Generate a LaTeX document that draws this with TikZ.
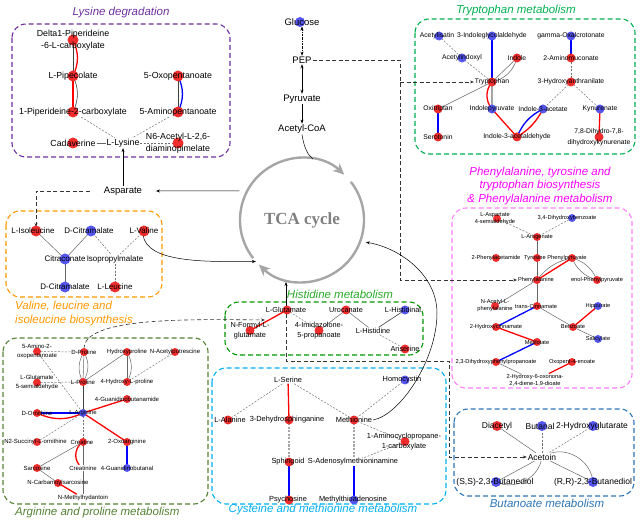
\documentclass[tikz,border=0pt]{standalone}
\usepackage{fontspec}
\setmainfont{Liberation Sans}
\newfontfamily\tcafont{Liberation Serif}
\usetikzlibrary{arrows.meta}
\pgfdeclarelayer{edges}
\pgfdeclarelayer{dots}
\pgfsetlayers{edges,dots,main}
\definecolor{rdc}{RGB}{240,45,45}
\definecolor{bdc}{RGB}{85,85,240}
\definecolor{lyscol}{RGB}{112,48,160}
\definecolor{trpcol}{RGB}{0,176,80}
\definecolor{phecol}{RGB}{255,0,255}
\definecolor{phebox}{RGB}{255,128,255}
\definecolor{valcol}{RGB}{255,153,0}
\definecolor{hiscol}{RGB}{40,170,40}
\definecolor{hisbox}{RGB}{0,150,0}
\definecolor{argcol}{RGB}{84,130,53}
\definecolor{cyscol}{RGB}{0,176,240}
\definecolor{butcol}{RGB}{46,117,182}
\definecolor{tcagray}{RGB}{166,166,166}
\definecolor{tcatext}{RGB}{128,128,128}
\newcommand\rdt[3][0]{\fill[rdot] ([xshift=#1pt]#2.center) circle[radius=#3];}
\newcommand\bdt[3][0]{\fill[bdot] ([xshift=#1pt]#2.center) circle[radius=#3];}
\tikzset{
  m/.style={inner sep=1pt,outer sep=0pt,align=center},
  fCen/.style={font=\fontsize{9.5}{11}\selectfont},
  fLys/.style={font=\fontsize{8.8}{12.5}\selectfont},
  fVal/.style={font=\fontsize{8}{10}\selectfont},
  fTrp/.style={font=\fontsize{6.8}{10.5}\selectfont},
  fPhe/.style={font=\fontsize{5.7}{7}\selectfont},
  fHis/.style={font=\fontsize{7.3}{10.7}\selectfont},
  fArg/.style={font=\fontsize{6}{9}\selectfont},
  fCys/.style={font=\fontsize{7.4}{9.3}\selectfont},
  fBut/.style={font=\fontsize{8.5}{10}\selectfont},
  ttl/.style={inner sep=0pt,font=\fontsize{11.5}{13.5}\selectfont\itshape,align=center},
  pbox/.style={rounded corners=14pt,dash pattern=on 5pt off 3pt,line width=1.1pt},
  gl/.style={draw=black!60,line width=0.5pt},
  dkl/.style={draw=black!75,line width=0.6pt},
  dl/.style={draw=black!55,line width=0.5pt,dash pattern=on 2pt off 1.5pt},
  gth/.style={draw=black!35,line width=1.4pt},
  dth/.style={draw=black!35,line width=1.3pt,dash pattern=on 2pt off 1.5pt},
  rl/.style={draw=red,line width=1.3pt},
  bl/.style={draw=blue,line width=1.3pt},
  rdot/.style={fill=rdc},
  bdot/.style={fill=bdc},
  arr/.style={draw=black,line width=0.5pt,-{Stealth[length=4pt,width=3pt]}},
  dbl/.style={draw=black,line width=0.5pt,{Stealth[length=4pt,width=3pt]}-{Stealth[length=4pt,width=3pt]}},
  darr/.style={draw=black!80,line width=0.6pt,dash pattern=on 4pt off 2.5pt,-{Stealth[length=4pt,width=3pt]}},
  tcaline/.style={draw=tcagray,line width=2.4pt,-{Stealth[length=11pt,width=10pt,inset=3pt]}},
}
\begin{document}
\begin{tikzpicture}[x=1pt,y=-1pt]
\useasboundingbox (0,0) rectangle (640,526);
% ---------- centre ----------
\node[m,fCen] (glc) at (302,22) {Glucose};
\node[m,fCen] (pep) at (302,60) {PEP};
\node[m,fCen] (pyr) at (302,99) {Pyruvate};
\node[m,fCen] (acoa) at (302,129) {Acetyl-CoA};
\node[m,fCen] (asp) at (123,191) {Asparate};
\node[circle,minimum size=124pt,inner sep=0pt,outer sep=0pt,text=tcatext,font=\tcafont\fontsize{17}{17}\selectfont\bfseries] (tca) at (302,220) {TCA cycle};
% ---------- lysine ----------
\node[ttl,text=lyscol] (tLys) at (121,13) {Lysine degradation};
\node[m,fLys] (del) at (73,40) {Delta1-Piperideine\\-6-L-carboxylate};
\node[m,fLys] (pip) at (73,76) {L-Pipecolate};
\node[m,fLys] (pip1) at (73,112) {1-Piperideine-2-carboxylate};
\node[m,fLys] (oxo) at (178,76) {5-Oxopentanoate};
\node[m,fLys] (amino) at (178,112) {5-Aminopentanoate};
\node[m,fLys] (cad) at (73,143) {Cadaverine};
\node[m,fLys] (lys) at (123,143) {L-Lysine};
\node[m,fLys] (n6) at (178,143) {N6-Acetyl-L-2,6-\\diaminopimelate};
% ---------- valine ----------
\node[ttl,text=valcol,align=left,anchor=west] (tVal) at (15,313.5) {Valine, leucine and\\isoleucine biosynthesis};
\node[m,fVal] (ile) at (33,231) {L-Isoleucine};
\node[m,fVal] (dcit1) at (89,231) {D-Citramalate};
\node[m,fVal] (lval) at (144,231) {L-Valine};
\node[m,fVal] (citr) at (65,259) {Citraconate};
\node[m,fVal] (ipm) at (115,259) {Isopropylmalate};
\node[m,fVal] (dcit2) at (65,287) {D-Citramalate};
\node[m,fVal] (leu) at (115,287) {L-Leucine};
% ---------- tryptophan ----------
\node[ttl,text=trpcol] (tTrp) at (516,11) {Tryptophan metabolism};
\node[m,fTrp] (ais) at (437,36) {Acetylisatin};
\node[m,fTrp] (igc) at (492,36) {3-Indoleglycolaldehyde};
\node[m,fTrp] (goc) at (571,36) {gamma-Oxalcrotonate};
\node[m,fTrp] (aix) at (462,58) {Acetylindoxyl};
\node[m,fTrp] (ind) at (517,58) {Indole};
\node[m,fTrp] (amu) at (571,58) {2-Aminomuconate};
\node[m,fTrp] (trp) at (492,82) {Tryptophan};
\node[m,fTrp] (hant) at (571,82) {3-Hydroxyanthranilate};
\node[m,fTrp] (oxi) at (438,109) {Oxitriptan};
\node[m,fTrp] (ipy) at (492,109) {Indolepyruvate};
\node[m,fTrp] (iac) at (543,109) {Indole-3-acetate};
\node[m,fTrp] (kyn) at (600,109) {Kynurenate};
\node[m,fTrp] (ser) at (438,137) {Serotonin};
\node[m,fTrp] (iald) at (517,137) {Indole-3-acetaldehyde};
\node[m,fTrp] (dhk) at (599,137) {7,8-Dihydro-7,8-\\dihydroxykynurenate};
% ---------- phenylalanine ----------
\node[ttl,text=phecol] (tPhe) at (540,186) {Phenylalanine, tyrosine and\\tryptophan biosynthesis\\\& Phenylalanine metabolism};
\node[m,fPhe] (lasa) at (495,218.5) {L-Aspartate\\4-semialdehyde};
\node[m,fPhe] (dhb) at (567,218) {3,4-Dihydroxybenzoate};
\node[m,fPhe] (aro) at (537,237) {L-Arogenate};
\node[m,fPhe] (pac) at (496,258) {2-Phenylacetamide};
\node[m,fPhe] (tyr) at (535,258) {Tyrosine};
\node[m,fPhe] (ppy) at (567,258) {Phenylpyruvate};
\node[m,fPhe] (phe) at (536,280) {Phenylalanine};
\node[m,fPhe] (enol) at (597,280) {enol-Phenylpyruvate};
\node[m,fPhe] (nap) at (495,306) {N-Acetyl-L-\\phenylalanine};
\node[m,fPhe] (tcin) at (536,306) {trans-Cinnamate};
\node[m,fPhe] (hip) at (598,306) {Hippurate};
\node[m,fPhe] (hcin) at (496,327) {2-Hydroxycinnamate};
\node[m,fPhe] (benz) at (573,327) {Benzoate};
\node[m,fPhe] (meli) at (537,342) {Melilotate};
\node[m,fPhe] (sal) at (598,339) {Salicylate};
\node[m,fPhe] (dhpp) at (496,362) {2,3-Dihydroxyphenylpropanoate};
\node[m,fPhe] (oxp) at (572,362) {Oxopent-4-enoate};
\node[m,fPhe] (hod) at (535,380.5) {2-Hydroxy-6-oxonona-\\2,4-diene-1,9-dioate};
% ---------- histidine ----------
\node[ttl,text=hiscol] (tHis) at (340,294) {Histidine metabolism};
\node[m,fHis] (hglu) at (286,310) {L-Glutamate};
\node[m,fHis] (uro) at (346,310) {Urocanate};
\node[m,fHis] (hisal) at (403,310) {L-Histidinal};
\node[m,fHis] (nfg) at (250,330.5) {N-Formyl-L-\\glutamate};
\node[m,fHis] (imp) at (319,330.5) {4-Imidazolone-\\5-propanoate};
\node[m,fHis] (his) at (373,331) {L-Histidine};
\node[m,fHis] (ans) at (405,349) {Anserine};
% ---------- arginine ----------
\node[ttl,text=argcol,anchor=west] (tArg) at (15,513) {Arginine and proline metabolism};
\node[m,fArg] (a5) at (37,351.5) {5-Amino-2-\\oxopentanoate};
\node[m,fArg] (dpro) at (84,352) {D-Proline};
\node[m,fArg] (hyp) at (127,352) {Hydroxyproline};
\node[m,fArg] (nap2) at (175,352) {N-Acetylputrescine};
\node[m,fArg] (g5s) at (37,382.5) {L-Glutamate\\5-semialdehyde};
\node[m,fArg] (lpro) at (83,382) {L-Proline};
\node[m,fArg] (h4p) at (127,382) {4-Hydroxy-L-proline};
\node[m,fArg] (gba) at (127,399) {4-Guanidinobutanamide};
\node[m,fArg] (dorn) at (37,413) {D-Ornithine};
\node[m,fArg] (larg) at (83,413) {L-Arginine};
\node[m,fArg] (nsuc) at (35.5,442) {N2-Succinyl-L-ornithine};
\node[m,fArg] (crt) at (82,442) {Creatine};
\node[m,fArg] (oxa) at (127,442) {2-Oxoarginine};
\node[m,fArg] (sar) at (37,468) {Sarcosine};
\node[m,fArg] (crn) at (83,468) {Creatinine};
\node[m,fArg] (gbal) at (127,468) {4-Guanidinobutanal};
\node[m,fArg] (ncs) at (58,483) {N-Carbamoylsarcosine};
\node[m,fArg] (nmh) at (83,498) {N-Methylhydantoin};
% ---------- cysteine ----------
\node[ttl,text=cyscol] (tCys) at (323,510) {Cysteine and methionine metabolism};
\node[m,fCys] (lser) at (288,380) {L-Serine};
\node[m,fCys] (hcy) at (402,380) {Homocystin};
\node[m,fCys] (lala) at (230,420) {L-Alanine};
\node[m,fCys] (dhs) at (287,420) {3-Dehydrosphinganine};
\node[m,fCys] (met) at (354,420) {Methionine};
\node[m,fCys] (acc) at (404,441.5) {1-Aminocyclopropane-\\1-carboxylate};
\node[m,fCys] (sph) at (288,462) {Sphingoid};
\node[m,fCys] (sam) at (353,462) {S-Adenosylmethioninamine};
\node[m,fCys] (psy) at (288,500) {Psychosine};
\node[m,fCys] (mta) at (353,500) {Methylthioadenosine};
% ---------- butanoate ----------
\node[ttl,text=butcol] (tBut) at (547,503) {Butanoate metabolism};
\node[m,fBut] (dia) at (497,426) {Diacetyl};
\node[m,fBut] (buta) at (540,426) {Butanal};
\node[m,fBut] (hgl) at (592,426) {2-Hydroxyglutarate};
\node[m,fBut] (act) at (542,457) {Acetoin};
\node[m,fBut] (ssb) at (495,482) {(S,S)-2,3-Butanediol};
\node[m,fBut] (rrb) at (593,482) {(R,R)-2,3-Butanediol};
% ---------- connection points ----------
\coordinate (trpbr) at (400,82);
\coordinate (hisin) at (265,320);

\begin{pgfonlayer}{edges}
% boxes
\draw[pbox,draw=lyscol] (12,24) rectangle (230,157);
\draw[pbox,draw=valcol] (6,211) rectangle (162,297);
\draw[pbox,draw=trpcol] (415,19) rectangle (635,154);
\draw[pbox,draw=phebox] (452,208) rectangle (632,388);
\draw[pbox,draw=hisbox] (225,302) rectangle (423,355);
\draw[pbox,draw=argcol] (3,338) rectangle (208,504);
\draw[pbox,draw=cyscol] (212,368) rectangle (446,504);
\draw[pbox,draw=butcol] (454,409) rectangle (634,496);
% TCA cycle
\draw[tcaline] (tca.center) ++(142:62) arc[start angle=142,end angle=313,radius=62];
\draw[tcaline] (tca.center) ++(322:62) arc[start angle=322,end angle=494,radius=62];
% centre connectors
\draw[dbl,dash pattern=on 2pt off 1pt on 0.6pt off 1pt] (glc) -- (pep);
\draw[dbl] (pep) -- (pyr);
\draw[arr] (pyr) -- (acoa);
\draw[draw=black,line width=0.5pt] (acoa.south) .. controls (304,148) and (308,155) .. (tca.80);
\draw[arr,shorten <=8pt,shorten >=13pt] (tca.152) -- (asp.east);
\draw[arr] (asp.north) -- (lys.south);
\draw[darr] ([xshift=-13pt]asp.west) -| ([xshift=3pt]ile.north);
\draw[arr] ([xshift=-1pt]lval.south) .. controls (147,262) and (200,262) .. (tca.222);
\draw[darr] (pep.east) -- (400,60) |- (phe.west);
\draw[darr] (trpbr) -- (trp.west);
\draw[arr] (hglu.north) -- (hglu.north |- tca.south);
\draw[darr] (hglu.south) |- (449,361) |- (act.west);
\draw[darr] (dpro.north) .. controls (84,318) and (180,319) .. (hisin);
\draw[arr] (met.east) .. controls (400,415) and (437,360) .. (437,313) .. controls (437,275) and (400,248) .. ([xshift=6pt]tca.-21);
% lysine
\draw[dkl] (del.center) -- (pip.center);
\draw[rl] (del.center) to[bend left=25] (pip.center);
\draw[rl] (pip.center) -- (pip1.center);
\draw[dkl] (pip.center) to[bend left=25] (pip1.center);
\draw[dkl] (oxo.center) -- (amino.center);
\draw[bl] (oxo.center) to[bend left=25] (amino.center);
\draw[dl] (pip1) -- (lys);
\draw[dl] (amino) -- (lys);
\draw[gl] (cad) -- (lys);
\draw[dl] (lys) -- (n6.center);
% valine
\draw[gl] ([xshift=3pt]ile.center) -- (citr.center);
\draw[gl] ([xshift=2pt]dcit1.center) -- (citr.center);
\draw[dl] ([xshift=2pt]dcit1.center) -- (ipm);
\draw[dl] (lval.center) -- (ipm);
\draw[gl] (citr.center) -- (dcit2.center);
\draw[dl] (ipm) -- (leu.center);
% tryptophan
\draw[dl] ([xshift=2pt]ais.center) -- (aix.center);
\draw[dl] (aix.center) -- (trp.center);
\draw[bl] (igc.center) -- (trp.center);
\draw[gl] (ind.center) -- (trp.center);
\draw[gl] (ind.center) to[bend left=30] (trp.center);
\draw[gth] (trp.center) -- (ipy.center);
\draw[rl] (trp.center) to[bend right=40] (ipy.center);
\draw[gl] (trp.center) -- (oxi.center);
\draw[bl] (oxi.center) -- (ser.center);
\draw[rl] (ipy.center) -- (iald.center);
\draw[bl] (iald.center) to[bend left=20] (iac.center);
\draw[rl] (iald.center) to[bend right=15] (iac.center);
\draw[dl] (hant.center) -- (iac.center);
\draw[dl] (hant.center) -- (kyn.center);
\draw[dl] (hant.center) -- (amu.center);
\draw[bl] (amu.center) -- (goc.center);
\draw[rl] (kyn.center) -- (dhk.center);
% phenylalanine
\draw[dl] ([xshift=2pt]lasa.center) -- (aro.center);
\draw[dl] ([xshift=5pt]dhb.center) -- (aro.center);
\draw[gl] (aro.center) -- ([xshift=2pt]tyr.center);
\draw[gl] ([xshift=2pt]tyr.center) -- ([xshift=1pt]phe.center);
\draw[rl] ([xshift=5pt]ppy.center) -- ([xshift=1pt]phe.center);
\draw[gl] ([xshift=5pt]ppy.center) to[bend right=20] ([xshift=1pt]phe.center);
\draw[gl] ([xshift=5pt]ppy.center) to[bend left=25] (enol.center);
\draw[gl] ([xshift=5pt]ppy.center) to[bend right=25] (enol.center);
\draw[gl] ([xshift=1pt]phe.center) -- (nap.center);
\draw[gl] ([xshift=1pt]phe.center) -- ([xshift=1pt]tcin.center);
\draw[bl] ([xshift=1pt]tcin.center) -- (hcin.center);
\draw[gl] ([xshift=1pt]tcin.center) -- (benz.center);
\draw[rl] (benz.center) -- (hip.center);
\draw[gl] (benz.center) -- (sal.center);
\draw[rl] (hcin.center) -- (meli.center);
\draw[bl] (meli.center) -- (dhpp.center);
\draw[gl] (dhpp.center) -- (hod);
\draw[rl] (hod) -- (oxp.center);
% histidine
\draw[rl] ([xshift=1pt]hglu.center) -- (nfg.center);
\draw[dl] ([xshift=1pt]hglu.center) -- (imp.center);
\draw[gl] (uro.center) -- (imp.center);
\draw[gl] (uro.center) -- (his);
\draw[dkl] ([xshift=2pt]hisal.center) -- (his);
\draw[dl] (his) -- (ans.center);
% arginine
\draw[dl] (a5.center) -- (dpro.center);
\draw[gl] (dpro.center) -- (lpro.center);
\draw[gl] (dpro.center) to[bend left=30] (lpro.center);
\draw[gl] (dpro.center) to[bend right=30] (lpro.center);
\draw[gl] (hyp.center) -- (h4p.center);
\draw[gl] (hyp.center) to[bend left=30] (h4p.center);
\draw[dl] (nap2.center) -- (h4p.center);
\draw[gl] (hyp.center) -- (lpro.center);
\draw[dl] (a5.center) -- (larg.center);
\draw[dl] (g5s.center) -- (lpro.center);
\draw[dkl] (lpro.center) -- (larg.center);
\draw[rl] (larg.center) -- (gba.center);
\draw[bl] (larg.center) -- (dorn.center);
\draw[rl] (larg.center) to[bend left=25] (dorn.center);
\draw[dl] (larg.center) -- ([xshift=1.5pt]nsuc.center);
\draw[dl] (larg.center) -- ([xshift=1pt]crt.center);
\draw[rl] (larg.center) -- (oxa.center);
\draw[bl] (oxa.center) -- (gbal.center);
\draw[gl] ([xshift=1pt]crt.center) -- (crn);
\draw[rl] ([xshift=1pt]crt.center) to[bend right=50] (crn);
\draw[gl] ([xshift=1pt]crt.center) -- (sar.center);
\draw[gl] (sar.center) -- (ncs.center);
\draw[rl] (ncs.center) -- (nmh);
\draw[gl] (crn) -- (nmh);
% cysteine
\draw[dl] (lser) -- ([xshift=-2pt]lala.center);
\draw[rl] (lser) -- ([xshift=2pt]dhs.center);
\draw[dl] (lser) -- (met.center);
\draw[dl] ([xshift=3pt]hcy.center) -- (met.center);
\draw[dl] (met.center) -- ([xshift=1pt]acc.center);
\draw[dth] ([xshift=2pt]dhs.center) -- ([xshift=1pt]sph.center);
\draw[dth] (met.center) -- (met.center |- sam.north);
\draw[dl] (sam) -- ([xshift=1pt]acc.center);
\draw[bl] ([xshift=1pt]sph.center) -- ([xshift=1pt]psy.center);
\draw[bl] ([xshift=1pt]sam.south) -- ([xshift=1pt]mta.center);
% butanoate
\draw[gl] (dia.center) -- (act);
\draw[dl] ([xshift=2pt]buta.center) -- (act);
\draw[dl] ([xshift=1pt]hgl.center) -- (act);
\draw[gl] (act) -- ([xshift=1pt]ssb.center);
\draw[gl] (act) to[bend left=50] ([xshift=1pt]ssb.center);
\draw[gl] (act) -- (rrb.center);
\draw[gl] (act) to[bend left=50] (rrb.center);
\end{pgfonlayer}

\begin{pgfonlayer}{dots}
\bdt[-2]{glc}{5}
\rdt{del}{5.5}\rdt{pip}{5.5}\rdt{pip1}{5.5}\rdt{oxo}{5.5}\rdt{amino}{5.5}\rdt{cad}{5.5}\rdt{n6}{5.5}
\rdt[3]{ile}{5.5}\bdt[2]{dcit1}{5.5}\rdt{lval}{5.5}\bdt{citr}{5.5}\bdt{dcit2}{5.5}\rdt{leu}{5.5}
\bdt[2]{ais}{4.5}\bdt{igc}{4.5}\bdt{goc}{4.5}\bdt{aix}{4.5}\rdt{ind}{4.5}\rdt{amu}{4.5}
\rdt{trp}{4.5}\rdt{hant}{4.5}\rdt{oxi}{4.5}\bdt{ipy}{4.5}\bdt{iac}{4.5}\bdt{kyn}{4.5}
\rdt{ser}{4.5}\rdt{iald}{4.5}\rdt{dhk}{4.5}
\rdt[2]{lasa}{4}\bdt[5]{dhb}{4}\rdt{aro}{4}\rdt{pac}{4}\rdt[2]{tyr}{4}\rdt[5]{ppy}{4}
\rdt[1]{phe}{4}\rdt{enol}{4}\rdt{nap}{4}\rdt[1]{tcin}{4}\bdt{hip}{4}\rdt{hcin}{4}
\rdt{benz}{4}\rdt{meli}{4}\bdt{sal}{4}\rdt{dhpp}{4}\rdt{oxp}{4}
\rdt[1]{hglu}{4.5}\rdt{uro}{4.5}\bdt[2]{hisal}{4.5}\rdt{nfg}{4.5}\rdt{imp}{4.5}\rdt{ans}{4.5}
\rdt{a5}{4}\rdt{dpro}{4}\rdt{hyp}{4}\rdt{nap2}{4}\rdt{g5s}{4}\rdt{lpro}{4}\rdt{h4p}{4}
\rdt{gba}{4}\rdt{dorn}{4}\bdt{larg}{4}\rdt[1.5]{nsuc}{4}\rdt[1]{crt}{4}\rdt{oxa}{4}
\rdt{sar}{4}\bdt{gbal}{4}\rdt{ncs}{4}
\bdt[3]{hcy}{4.5}\rdt[-2]{lala}{4.5}\rdt[2]{dhs}{4.5}\rdt{met}{4.5}\rdt[1]{acc}{4.5}
\rdt[1]{sph}{4.5}\rdt[1]{psy}{4.5}\bdt[1]{mta}{4.5}
\rdt{dia}{5}\bdt[2]{buta}{5}\bdt[1]{hgl}{5}\bdt[1]{ssb}{5}\bdt{rrb}{5}
\end{pgfonlayer}
\end{tikzpicture}
\end{document}
